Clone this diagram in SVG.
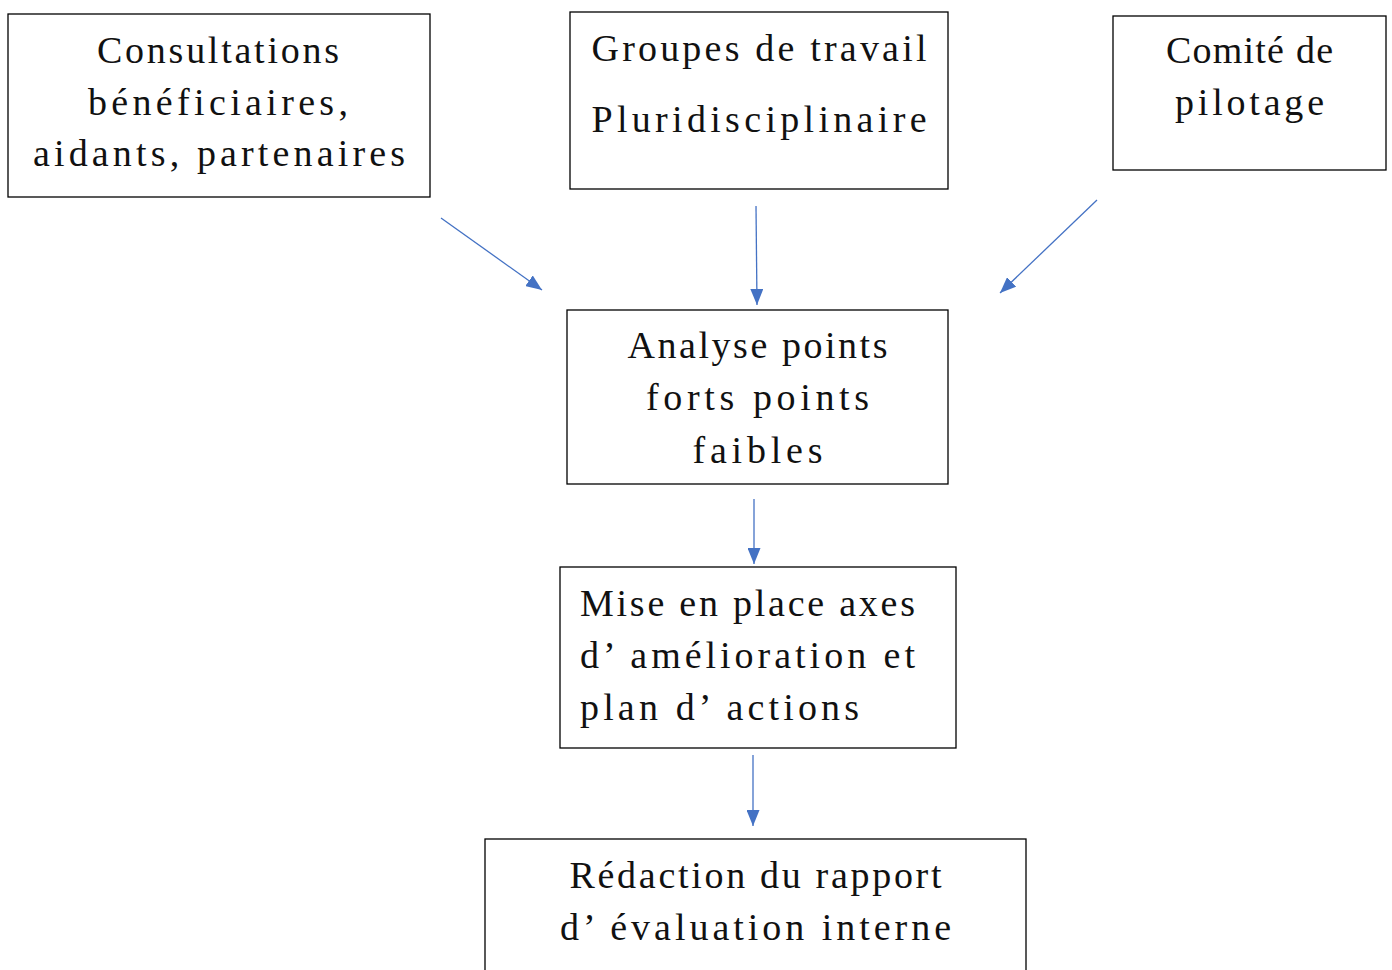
<svg xmlns="http://www.w3.org/2000/svg" width="1392" height="970" viewBox="0 0 1392 970">
<style>
.box{fill:#fff;stroke:#000;stroke-width:1.3}
.t{font-family:"Liberation Serif",serif;font-size:38px;fill:#111}
.c{text-anchor:middle}
.conn{stroke:#4472C4;stroke-width:1.3;fill:none}
</style>
<defs>
<marker id="ah" markerWidth="16" markerHeight="13" refX="16" refY="6.5" orient="auto" markerUnits="userSpaceOnUse">
<path d="M0,0 L16,6.5 L0,13 Z" fill="#4472C4"/>
</marker>
</defs>
<rect width="1392" height="970" fill="#fff"/>
<g id="n1">
<rect class="box" x="8" y="14" width="422" height="183"/>
<text class="t c" x="218" y="63" textLength="242" lengthAdjust="spacing">Consultations</text>
<text class="t c" x="218" y="115" textLength="260" lengthAdjust="spacing">bénéficiaires,</text>
<text class="t c" x="219" y="166" textLength="372" lengthAdjust="spacing">aidants, partenaires</text>
</g>
<g id="n2">
<rect class="box" x="570" y="12" width="378" height="177"/>
<text class="t c" x="759" y="61" textLength="335" lengthAdjust="spacing">Groupes de travail</text>
<text class="t c" x="759" y="132" textLength="335" lengthAdjust="spacing">Pluridisciplinaire</text>
</g>
<g id="n3">
<rect class="box" x="1113" y="16" width="273" height="154"/>
<text class="t c" x="1249.5" y="63" textLength="167" lengthAdjust="spacing">Comité de</text>
<text class="t c" x="1249.5" y="115" textLength="149" lengthAdjust="spacing">pilotage</text>
</g>
<g id="n4">
<rect class="box" x="567" y="310" width="381" height="174"/>
<text class="t c" x="757.5" y="358" textLength="260" lengthAdjust="spacing">Analyse points</text>
<text class="t c" x="757.5" y="410" textLength="223" lengthAdjust="spacing">forts points</text>
<text class="t c" x="757.5" y="463" textLength="130" lengthAdjust="spacing">faibles</text>
</g>
<g id="n5">
<rect class="box" x="560" y="567" width="396" height="181"/>
<text class="t" x="580" y="616" textLength="335" lengthAdjust="spacing">Mise en place axes</text>
<text class="t" x="580" y="668" textLength="335" lengthAdjust="spacing">d’ amélioration et</text>
<text class="t" x="580" y="720" textLength="279" lengthAdjust="spacing">plan d’ actions</text>
</g>
<g id="n6">
<rect class="box" x="485" y="839" width="541" height="140"/>
<text class="t c" x="755.5" y="888" textLength="372" lengthAdjust="spacing">Rédaction du rapport</text>
<text class="t c" x="755.5" y="940" textLength="391" lengthAdjust="spacing">d’ évaluation interne</text>
</g>
<g id="connectors">
<line class="conn" x1="441" y1="218" x2="542" y2="290" marker-end="url(#ah)"/>
<line class="conn" x1="756" y1="206" x2="757" y2="305" marker-end="url(#ah)"/>
<line class="conn" x1="1097" y1="200" x2="1000" y2="293" marker-end="url(#ah)"/>
<line class="conn" x1="754" y1="499" x2="754" y2="564" marker-end="url(#ah)"/>
<line class="conn" x1="753" y1="755" x2="753" y2="826" marker-end="url(#ah)"/>
</g>
</svg>
